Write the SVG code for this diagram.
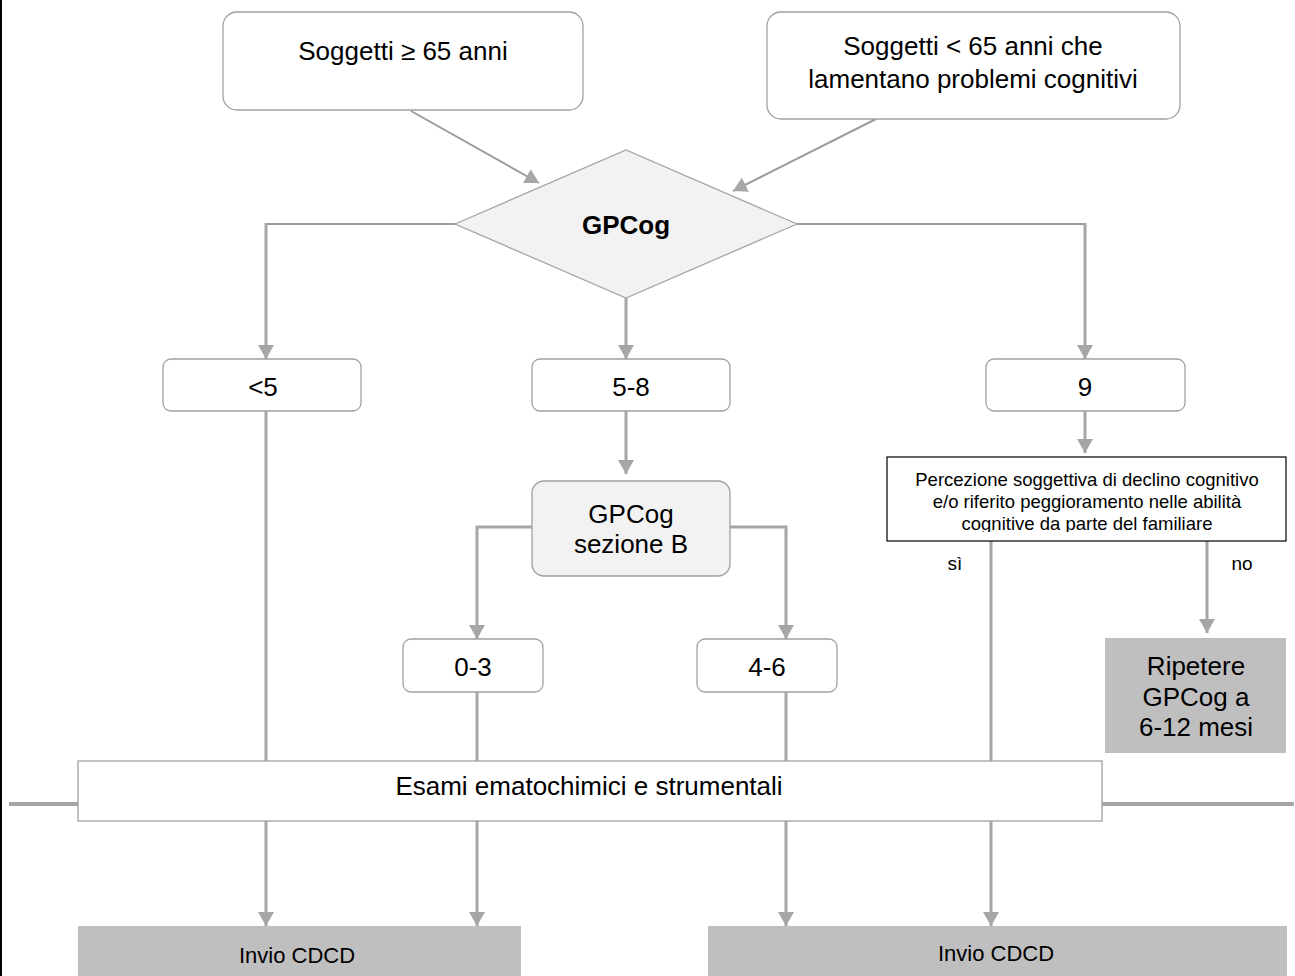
<svg xmlns="http://www.w3.org/2000/svg" width="1295" height="976" viewBox="0 0 1295 976">
<style>
text{font-family:"Liberation Sans",Arial,sans-serif;fill:#000;text-anchor:middle}
.t26{font-size:26px}
.b{font-weight:bold}
.box{fill:#fff;stroke:#a0a0a0;stroke-width:1.3}
.gbox{fill:#f2f2f2;stroke:#a0a0a0;stroke-width:1.3}
.dark{fill:#bfbfbf;stroke:none}
.c{fill:none;stroke:#a6a6a6;stroke-width:3}
.c2{fill:none;stroke:#9c9c9c;stroke-width:2}
</style>
<defs>
<marker id="ah" markerUnits="userSpaceOnUse" markerWidth="16" markerHeight="16" refX="14" refY="8" orient="auto" viewBox="0 0 16 16">
<path d="M0,0 L14,8 L0,16 z" fill="#a6a6a6"/>
</marker>
<clipPath id="pclip"><rect x="887" y="457" width="399" height="75"/></clipPath>
</defs>
<rect x="0" y="0" width="2" height="976" fill="#000"/>
<g id="connectors">
<line class="c2" x1="411" y1="111" x2="539" y2="183" marker-end="url(#ah)"/>
<line class="c2" x1="876" y1="119" x2="733" y2="191" marker-end="url(#ah)"/>
<polyline class="c2" points="455,224 266,224"/>
<line class="c" x1="266" y1="223" x2="266" y2="359" marker-end="url(#ah)"/>
<polyline class="c2" points="797,224 1085,224"/>
<line class="c" x1="1085" y1="223" x2="1085" y2="359" marker-end="url(#ah)"/>
<line class="c" x1="626" y1="298" x2="626" y2="359" marker-end="url(#ah)"/>
<line class="c" x1="626" y1="411" x2="626" y2="474" marker-end="url(#ah)"/>
<polyline class="c" points="532,527 477,527 477,639" marker-end="url(#ah)"/>
<polyline class="c" points="730,527 786,527 786,639" marker-end="url(#ah)"/>
<line class="c" x1="1085" y1="411" x2="1085" y2="453" marker-end="url(#ah)"/>
<line class="c" x1="1207" y1="541" x2="1207" y2="633" marker-end="url(#ah)"/>
<line class="c" x1="266" y1="411" x2="266" y2="761"/>
<line class="c" x1="477" y1="692" x2="477" y2="761"/>
<line class="c" x1="786" y1="692" x2="786" y2="761"/>
<line class="c" x1="991" y1="541" x2="991" y2="761"/>
<line class="c" x1="266" y1="821" x2="266" y2="926" marker-end="url(#ah)"/>
<line class="c" x1="477" y1="821" x2="477" y2="926" marker-end="url(#ah)"/>
<line class="c" x1="786" y1="821" x2="786" y2="926" marker-end="url(#ah)"/>
<line class="c" x1="991" y1="821" x2="991" y2="926" marker-end="url(#ah)"/>
<line stroke="#a6a6a6" stroke-width="4" x1="9" y1="804" x2="78" y2="804"/>
<line stroke="#a6a6a6" stroke-width="4" x1="1102" y1="804" x2="1294" y2="804"/>
<text x="955" y="570" style="font-size:19px">sì</text>
<text x="1242" y="570" style="font-size:19px">no</text>
</g>
<g id="n-over65">
<rect class="box" x="223" y="12" width="360" height="98" rx="14"/>
<text class="t26" x="403" y="60">Soggetti ≥ 65 anni</text>
</g>
<g id="n-under65">
<rect class="box" x="767" y="12" width="413" height="107" rx="14"/>
<text class="t26" x="973" y="55">Soggetti &lt; 65 anni che</text>
<text class="t26" x="973" y="88">lamentano problemi cognitivi</text>
</g>
<g id="n-gpcog">
<polygon points="455,224 626,150 797,224 626,298" fill="#f2f2f2" stroke="#a6a6a6" stroke-width="1.3"/>
<text class="t26 b" x="626" y="234">GPCog</text>
</g>
<g id="n-lt5">
<rect class="box" x="163" y="359" width="198" height="52" rx="8"/>
<text class="t26" x="263" y="396">&lt;5</text>
</g>
<g id="n-58">
<rect class="box" x="532" y="359" width="198" height="52" rx="8"/>
<text class="t26" x="631" y="396">5-8</text>
</g>
<g id="n-9">
<rect class="box" x="986" y="359" width="199" height="52" rx="8"/>
<text class="t26" x="1085" y="396">9</text>
</g>
<g id="n-gpcogb">
<rect class="gbox" x="532" y="481" width="198" height="95" rx="12"/>
<text class="t26" x="631" y="523">GPCog</text>
<text class="t26" x="631" y="553">sezione B</text>
</g>
<g id="n-03">
<rect class="box" x="403" y="639" width="140" height="53" rx="8"/>
<text class="t26" x="473" y="676">0-3</text>
</g>
<g id="n-46">
<rect class="box" x="697" y="639" width="140" height="53" rx="8"/>
<text class="t26" x="767" y="676">4-6</text>
</g>
<g id="n-percezione">
<rect x="887" y="457" width="399" height="84" fill="#fff" stroke="#000" stroke-width="1.2"/>
<g clip-path="url(#pclip)" style="font-size:18.5px">
<text x="1087" y="486">Percezione soggettiva di declino cognitivo</text>
<text x="1087" y="508">e/o riferito peggioramento nelle abilità</text>
<text x="1087" y="530">cognitive da parte del familiare</text>
</g>
</g>
<g id="n-ripetere">
<rect class="dark" x="1105" y="638" width="181" height="115"/>
<text class="t26" x="1196" y="675">Ripetere</text>
<text class="t26" x="1196" y="706">GPCog a</text>
<text class="t26" x="1196" y="736">6-12 mesi</text>
</g>
<g id="n-esami">
<rect class="box" x="78" y="761" width="1024" height="60"/>
<text class="t26" x="589" y="795">Esami ematochimici e strumentali</text>
</g>
<g id="n-invio1">
<rect class="dark" x="78" y="926" width="443" height="50"/>
<text x="297" y="963" style="font-size:22px">Invio CDCD</text>
</g>
<g id="n-invio2">
<rect class="dark" x="708" y="926" width="579" height="50"/>
<text x="996" y="961" style="font-size:22px">Invio CDCD</text>
</g>
</svg>
